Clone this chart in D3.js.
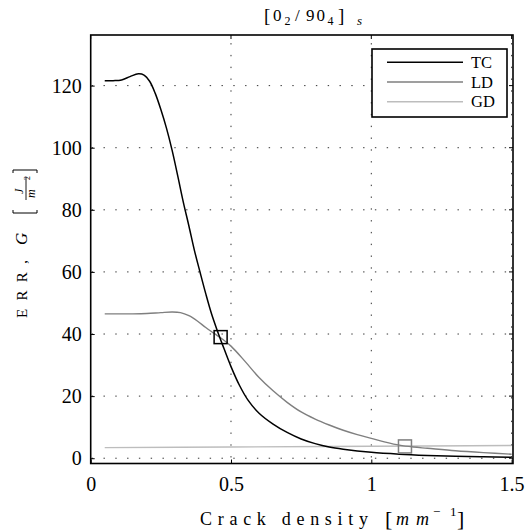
<!DOCTYPE html>
<html>
<head>
<meta charset="utf-8">
<script src="https://cdn.jsdelivr.net/npm/d3@7"></script>
<style>
  html, body { margin: 0; padding: 0; background: #fff; }
  svg { display: block; }
  text { font-family: "Liberation Serif", "Times New Roman", serif; }
</style>
</head>
<body>
<div id="chart"></div>
<script>
// ---- data ----
const xTicks = [0, 0.5, 1, 1.5];
const yTicks = [0, 20, 40, 60, 80, 100, 120];
const xTickLabels = ["0", "0.5", "1", "1.5"];
const yTickLabels = ["0", "20", "40", "60", "80", "100", "120"];

const seriesNames = ["TC", "LD", "GD"];

const densityTC = [0.05, 0.08, 0.11, 0.14, 0.17, 0.19, 0.21, 0.23, 0.25, 0.27, 0.29, 0.31, 0.33, 0.35, 0.37, 0.39, 0.41, 0.43, 0.45, 0.47, 0.50, 0.53, 0.56, 0.60, 0.65, 0.70, 0.75, 0.80, 0.85, 0.90, 1.00, 1.10, 1.20, 1.30, 1.40, 1.50];
const errTC = [121.6, 121.6, 121.8, 122.9, 123.8, 123.4, 121.4, 117.5, 112.3, 106.3, 99.2, 91.0, 82.5, 74.8, 66.8, 59.8, 53.0, 46.7, 41.4, 36.5, 29.5, 23.5, 18.8, 14.5, 11.0, 8.3, 6.2, 4.7, 3.6, 2.9, 1.9, 1.3, 0.9, 0.6, 0.45, 0.3];

const densityLD = [0.05, 0.10, 0.15, 0.20, 0.25, 0.29, 0.32, 0.35, 0.38, 0.41, 0.44, 0.47, 0.50, 0.55, 0.60, 0.65, 0.70, 0.75, 0.80, 0.85, 0.90, 0.95, 1.00, 1.05, 1.10, 1.15, 1.20, 1.30, 1.40, 1.50];
const errLD = [46.5, 46.5, 46.5, 46.6, 46.9, 47.1, 46.9, 45.9, 44.2, 42.1, 40.2, 38.3, 36.1, 31.2, 26.0, 21.7, 18.0, 14.9, 12.6, 10.7, 9.0, 7.6, 6.4, 5.2, 4.2, 3.6, 3.2, 2.4, 1.8, 1.3];

const densityGD = [0.05, 0.50, 1.00, 1.50];
const errGD = [3.4, 3.6, 3.85, 4.1];

const markerDensity = [0.463, 1.12];
const markerErr = [39.0, 3.8];

// ---- layout ----
const W = 531, H = 531;
const L = 90.7, R = 513, T = 35, B = 463.5;
const colors = { TC: "#000000", LD: "#7f7f7f", GD: "#bdbdbd" };
const markerColors = ["#000000", "#7f7f7f"];
const SERIF = "'Liberation Serif', 'Times New Roman', serif";

const svg = d3.select("#chart").append("svg").attr("width", W).attr("height", H);

const x = d3.scaleLinear().domain([0, 1.505]).range([L, R]);
const y = d3.scaleLinear().domain([-1.7, 136.3]).range([B, T]);

// grid
const grid = svg.append("g");
grid.selectAll("line.hg").data(yTicks).join("line")
  .attr("x1", L).attr("x2", R)
  .attr("y1", d => y(d)).attr("y2", d => y(d))
  .attr("stroke", "#333").attr("stroke-width", 1)
  .attr("stroke-dasharray", "1.4 10.4").attr("stroke-dashoffset", -1);
grid.selectAll("line.vg").data(xTicks.slice(1)).join("line")
  .attr("x1", d => x(d)).attr("x2", d => x(d))
  .attr("y1", B).attr("y2", T)
  .attr("stroke", "#333").attr("stroke-width", 1)
  .attr("stroke-dasharray", "1.4 10.4").attr("stroke-dashoffset", -6);

// axes (ticks inward)
const xAxis = d3.axisBottom(x).tickValues(xTicks).tickFormat((d, i) => xTickLabels[i]).tickSizeInner(-4).tickSizeOuter(0).tickPadding(13);
const yAxis = d3.axisLeft(y).tickValues(yTicks).tickFormat((d, i) => yTickLabels[i]).tickSizeInner(-4).tickSizeOuter(0).tickPadding(9);
const gx = svg.append("g").attr("transform", `translate(0,${B})`).call(xAxis);
const gy = svg.append("g").attr("transform", `translate(${L},0)`).call(yAxis);
[gx, gy].forEach(g => {
  g.attr("font-family", null).attr("font-size", null);
  g.select(".domain").remove();
  g.selectAll(".tick line").attr("stroke", "#000").attr("stroke-width", 1);
  g.selectAll("text").style("font-family", SERIF).style("font-size", "20px").attr("fill", "#000");
});
// right / top inward ticks
svg.append("g").selectAll("line").data(yTicks).join("line")
  .attr("x1", R).attr("x2", R - 4).attr("y1", d => y(d)).attr("y2", d => y(d))
  .attr("stroke", "#000");
svg.append("g").selectAll("line").data(xTicks).join("line")
  .attr("x1", d => x(d)).attr("x2", d => x(d)).attr("y1", T).attr("y2", T + 4)
  .attr("stroke", "#000");

// lines
const line = d3.line().x(d => x(d[0])).y(d => y(d[1])).curve(d3.curveCatmullRom.alpha(0.5));
const seriesData = {
  GD: d3.zip(densityGD, errGD),
  LD: d3.zip(densityLD, errLD),
  TC: d3.zip(densityTC, errTC)
};
["GD", "LD", "TC"].forEach(k => {
  svg.append("path").datum(seriesData[k])
    .attr("d", line).attr("fill", "none")
    .attr("stroke", colors[k]).attr("stroke-width", k === "TC" ? 1.5 : 1.4);
});

// markers
const ms = 13;
svg.append("g").selectAll("rect").data(d3.zip(markerDensity, markerErr)).join("rect")
  .attr("x", d => x(d[0]) - ms / 2).attr("y", d => y(d[1]) - ms / 2)
  .attr("width", ms).attr("height", ms)
  .attr("fill", "none").attr("stroke", (d, i) => markerColors[i]).attr("stroke-width", 1.5);

// frame
svg.append("rect").attr("x", L).attr("y", T).attr("width", R - L).attr("height", B - T)
  .attr("fill", "none").attr("stroke", "#000").attr("stroke-width", 1.6);

// legend
const lg = svg.append("g");
lg.append("rect").attr("x", 372).attr("y", 49).attr("width", 135).attr("height", 68)
  .attr("fill", "#fff").attr("stroke", "#000").attr("stroke-width", 1.6);
seriesNames.forEach((n, i) => {
  const yy = 62.3 + i * 19.7;
  lg.append("line").attr("x1", 387).attr("x2", 463).attr("y1", yy).attr("y2", yy)
    .attr("stroke", colors[n]).attr("stroke-width", n === "TC" ? 1.5 : 1.4);
  lg.append("text").attr("x", 471).attr("y", yy + 5.5).style("font-family", SERIF).style("font-size", "16.5px").text(n);
});

// title  [0_2/90_4]_s
const tg = svg.append("g").style("font-family", SERIF);
const tparts = [
  { t: "[", x: 264, y: 22, s: 19 },
  { t: "0", x: 273, y: 21, s: 17 },
  { t: "2", x: 284.5, y: 25, s: 12 },
  { t: "/", x: 295, y: 21, s: 17 },
  { t: "9", x: 306, y: 21, s: 17 },
  { t: "0", x: 316.5, y: 21, s: 17 },
  { t: "4", x: 327.5, y: 25, s: 12 },
  { t: "]", x: 338, y: 22, s: 19 },
  { t: "s", x: 357, y: 25, s: 13, i: true }
];
tparts.forEach(p => {
  tg.append("text").attr("x", p.x).attr("y", p.y).style("font-size", p.s + "px")
    .style("font-style", p.i ? "italic" : "normal").text(p.t);
});

// x label
const xl = svg.append("g").style("font-family", SERIF);
xl.append("text").attr("x", 200).attr("y", 525).style("font-size", "18px")
  .attr("textLength", 168).attr("lengthAdjust", "spacing").text("Crack density");
xl.append("text").attr("x", 385).attr("y", 526).style("font-size", "22px").text("[");
xl.append("text").attr("x", 396).attr("y", 525).style("font-size", "18px").style("font-style", "italic")
  .attr("textLength", 33).attr("lengthAdjust", "spacing").text("mm");
xl.append("text").attr("x", 433).attr("y", 516).style("font-size", "13px").text("−");
xl.append("text").attr("x", 450).attr("y", 516).style("font-size", "13px").text("1");
xl.append("text").attr("x", 457).attr("y", 526).style("font-size", "22px").text("]");

// y label (rotated)
const yl = svg.append("g").attr("transform", "translate(27,318) rotate(-90)").style("font-family", SERIF);
yl.append("text").attr("x", 0).attr("y", 0).style("font-size", "15px")
  .attr("textLength", 58).attr("lengthAdjust", "spacing").text("ERR,");
yl.append("text").attr("x", 73).attr("y", 0).style("font-size", "17px").style("font-style", "italic").text("G");
// brackets
yl.append("path").attr("d", "M108,-14 L105,-14 L105,10 L108,10").attr("fill", "none").attr("stroke", "#000").attr("stroke-width", 1);
yl.append("path").attr("d", "M145,-14 L148,-14 L148,10 L145,10").attr("fill", "none").attr("stroke", "#000").attr("stroke-width", 1);
// fraction J / m^2
yl.append("line").attr("x1", 118).attr("x2", 141).attr("y1", -1).attr("y2", -1).attr("stroke", "#000").attr("stroke-width", 0.9);
yl.append("text").attr("x", 124).attr("y", -4).style("font-size", "12px").style("font-style", "italic").text("J");
yl.append("text").attr("x", 120).attr("y", 8).style("font-size", "12px").style("font-style", "italic").text("m");
yl.append("text").attr("x", 138).attr("y", 3).style("font-size", "8px").text("2");
</script>
</body>
</html>
